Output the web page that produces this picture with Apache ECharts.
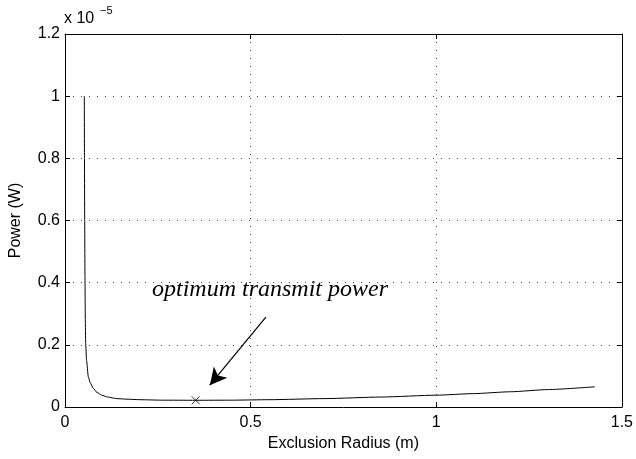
<!DOCTYPE html>
<html>
<head>
<meta charset="utf-8">
<script src="https://cdn.jsdelivr.net/npm/echarts@6/dist/echarts.min.js"></script>
<style>
    html, body { margin: 0; padding: 0; background: #ffffff; }
    #chart { width: 636px; height: 459px; }
</style>
</head>
<body>
<div id="chart"></div>
<script>
// curve, power in units of 1e-5 W
const radius = [0.052, 0.0525, 0.053, 0.0538, 0.0547, 0.0557, 0.058, 0.0628, 0.068, 0.0762, 0.086, 0.0988, 0.115, 0.139, 0.17, 0.202, 0.26, 0.352, 0.45, 0.55, 0.7, 0.85, 1.0, 1.1, 1.2, 1.3, 1.427];
const power = [1.0, 0.8, 0.6, 0.42, 0.28, 0.205, 0.15, 0.097, 0.078, 0.06, 0.047, 0.038, 0.032, 0.027, 0.025, 0.0235, 0.022, 0.0216, 0.022, 0.0235, 0.027, 0.032, 0.038, 0.043, 0.049, 0.056, 0.065];

const optimumPoint = [0.352, 0.0216];
const arrowFrom = [0.541, 0.289];
const arrowTo = [0.39, 0.07];
const annotation = "optimum transmit power";

const xTicks = [0, 0.5, 1, 1.5];
const yTicks = [0, 0.2, 0.4, 0.6, 0.8, 1, 1.2];

const chart = echarts.init(document.getElementById("chart"), null, { renderer: "canvas" });

const labelFont = {
    fontFamily: "Liberation Sans, Arial, sans-serif",
    fontSize: 16,
    color: "#000000"
};

const gridLine = {
    show: true,
    lineStyle: {
        color: "#444444",
        width: 1,
        type: [1, 7]
    }
};

function frameAxis(position, ticks) {
    return {
        type: "value",
        position: position,
        min: ticks[0],
        max: ticks[ticks.length - 1],
        interval: ticks[1] - ticks[0],
        axisLine: { show: true, onZero: false, lineStyle: { color: "#000", width: 1 } },
        axisTick: { show: true, inside: true, length: 5, lineStyle: { color: "#000" } },
        axisLabel: { show: false },
        splitLine: { show: false }
    };
}

const points = radius.map((r, i) => [r, power[i]]);

chart.setOption({
    animation: false,
    backgroundColor: "#ffffff",
    grid: {
        left: 65,
        right: 14,
        top: 34,
        bottom: 52
    },
    xAxis: [
        {
            type: "value",
            position: "bottom",
            min: xTicks[0],
            max: xTicks[xTicks.length - 1],
            interval: 0.5,
            name: "Exclusion Radius (m)",
            nameLocation: "middle",
            nameGap: 27,
            nameTextStyle: labelFont,
            axisLine: { show: true, onZero: false, lineStyle: { color: "#000", width: 1 } },
            axisTick: { show: true, inside: true, length: 5, lineStyle: { color: "#000" } },
            axisLabel: Object.assign({ margin: 8 }, labelFont),
            splitLine: gridLine
        },
        frameAxis("top", xTicks)
    ],
    yAxis: [
        {
            type: "value",
            position: "left",
            min: yTicks[0],
            max: yTicks[yTicks.length - 1],
            interval: 0.2,
            name: "Power (W)",
            nameLocation: "middle",
            nameGap: 41,
            nameTextStyle: labelFont,
            axisLine: { show: true, onZero: false, lineStyle: { color: "#000", width: 1 } },
            axisTick: { show: true, inside: true, length: 5, lineStyle: { color: "#000" } },
            axisLabel: Object.assign({ margin: 5 }, labelFont),
            splitLine: gridLine
        },
        frameAxis("right", yTicks)
    ],
    graphic: [
        {
            type: "text",
            left: 64,
            top: 11,
            style: {
                text: "x 10",
                font: "16px Liberation Sans, Arial, sans-serif",
                fill: "#000"
            }
        },
        {
            type: "text",
            left: 100,
            top: 5,
            style: {
                text: "\u22125",
                font: "11px Liberation Sans, Arial, sans-serif",
                fill: "#000"
            }
        },
        {
            type: "text",
            left: 152,
            top: 278,
            style: {
                text: annotation,
                font: "italic 24px Liberation Serif, Times New Roman, serif",
                fill: "#000"
            }
        }
    ],
    series: [
        {
            name: "Power",
            type: "line",
            data: points,
            showSymbol: false,
            smooth: 0.2,
            smoothMonotone: "x",
            lineStyle: { color: "#000", width: 1 },
            markLine: {
                silent: true,
                symbol: ["none", "arrow"],
                symbolSize: [13, 17],
                label: { show: false },
                lineStyle: { color: "#000", width: 1.2, type: "solid" },
                itemStyle: { color: "#000" },
                data: [[{ coord: arrowFrom }, { coord: arrowTo }]]
            }
        },
        {
            name: "Optimum",
            type: "scatter",
            data: [optimumPoint],
            symbol: "path://M0,0L10,10M10,0L0,10",
            symbolSize: 8,
            itemStyle: { color: "none", borderColor: "#000", borderWidth: 1 }
        }
    ]
});
</script>
</body>
</html>
